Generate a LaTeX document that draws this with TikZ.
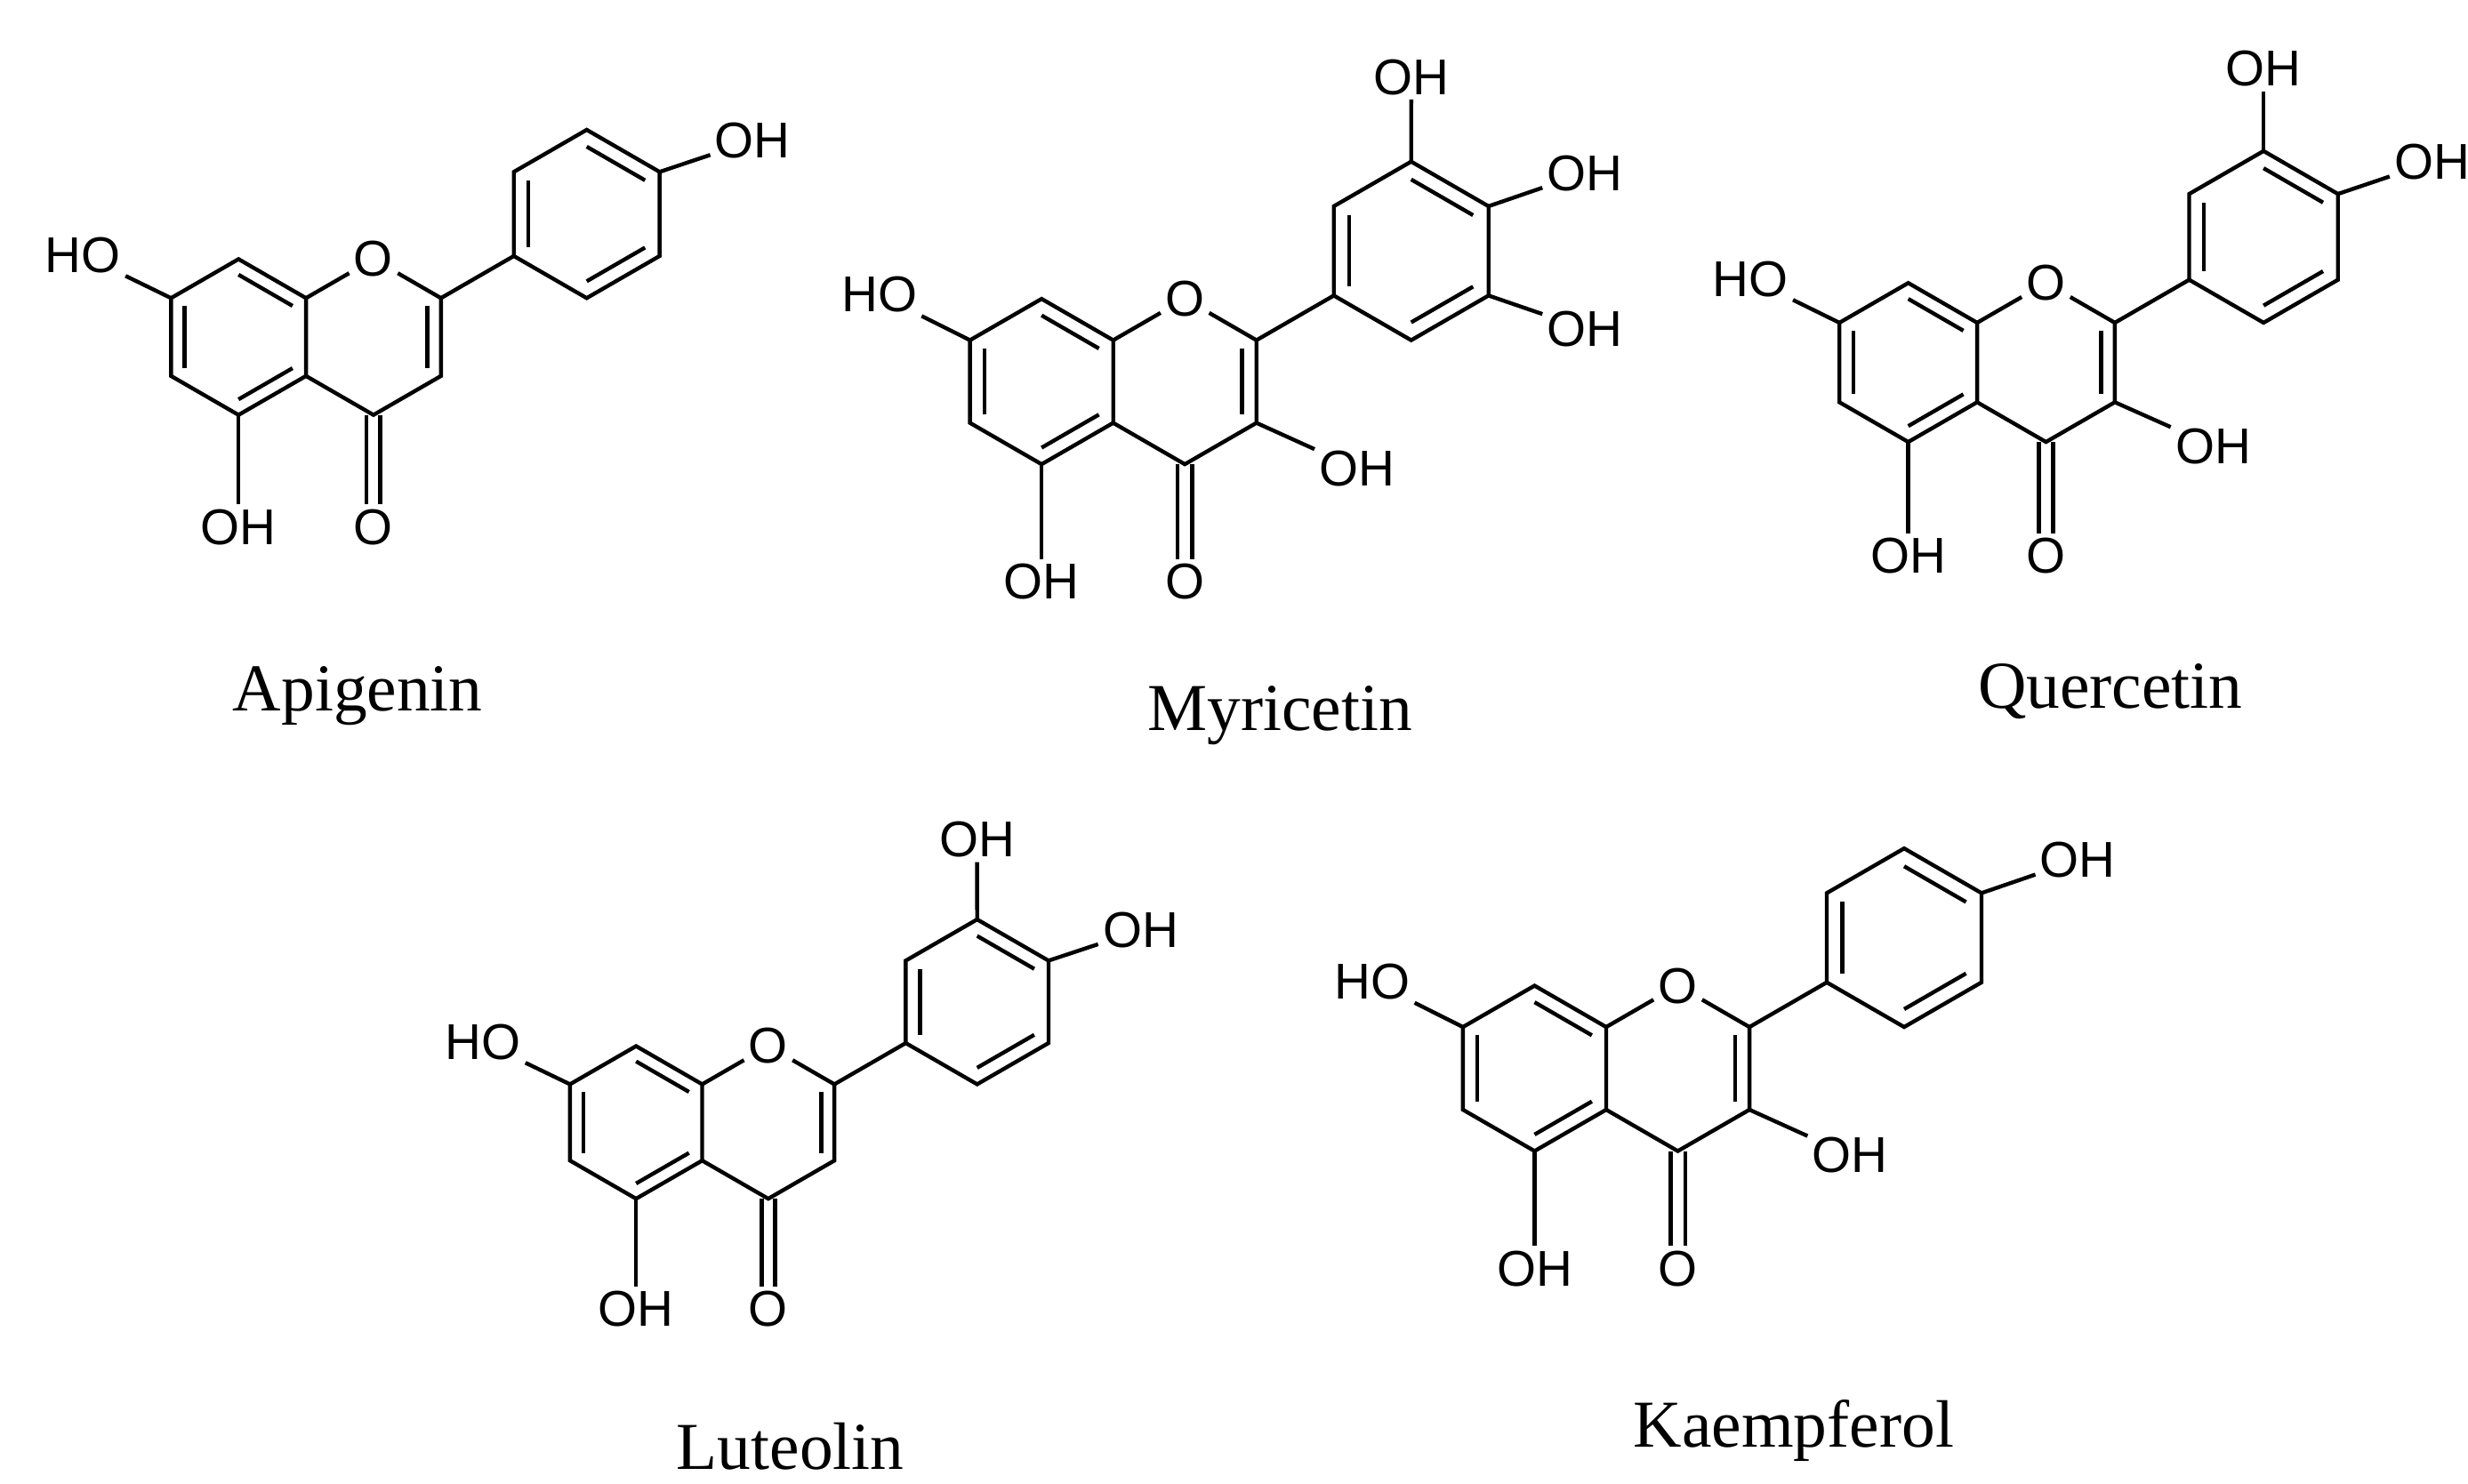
\documentclass[tikz,border=0pt]{standalone}
\usepackage{fontspec}
\setmainfont{Liberation Serif}
\newfontfamily\atomfont{Liberation Sans}
\usetikzlibrary{calc}
\tikzset{
 bond/.style={line width=1.4pt},
 atom/.style={font=\atomfont\fontsize{18}{18}\selectfont, inner sep=1.5pt},
 title/.style={font=\fontsize{24}{24}\selectfont}
}
\newcommand\dbl[3]{\draw[bond] ($(#1)!0.2!(#3)$) -- ($(#2)!0.2!(#3)$);}
% x, y, L, name, 3-OH, 3'-OH, 4'-OH, 5'-OH
\newcommand\flav[8]{%
\begin{scope}[shift={(#1/50,-#2/50)},scale=#3/50]
\coordinate (#4a1) at (0,1); \coordinate (#4a2) at (0.866,0.5);
\coordinate (#4a3) at (0.866,-0.5); \coordinate (#4a4) at (0,-1);
\coordinate (#4a5) at (-0.866,-0.5); \coordinate (#4a6) at (-0.866,0.5);
\coordinate (#4ac) at (0,0);
\coordinate (#4c2) at (2.598,0.5); \coordinate (#4c3) at (2.598,-0.5);
\coordinate (#4c4) at (1.732,-1); \coordinate (#4cc) at (1.732,0);
\begin{scope}[shift={(2.598,0.5)},scale=1.08,shift={(-2.598,-0.5)}]
\coordinate (#4b1) at (3.464,1); \coordinate (#4b2) at (4.33,0.5);
\coordinate (#4b3) at (5.196,1); \coordinate (#4b4) at (5.196,2);
\coordinate (#4b5) at (4.33,2.5); \coordinate (#4b6) at (3.464,2);
\coordinate (#4bc) at (4.33,1.5);
\end{scope}
\node[atom] (#4o1) at (1.732,1) {O};
\node[atom,anchor=north] (#4o4) at (1.732,-2.15) {O};
\node[atom,anchor=north] (#4o5) at (0,-2.15) {OH};
\node[atom,anchor=east] (#4o7) at (-1.45,1.05) {HO};
\draw[bond] (#4a1)--(#4a2)--(#4a3)--(#4a4)--(#4a5)--(#4a6)--cycle;
\draw[bond] (#4a2)--(#4o1)--(#4c2)--(#4c3)--(#4c4)--(#4a3);
\draw[bond] (#4a4)--(#4o5); \draw[bond] (#4a6)--(#4o7);
\draw[bond] ([xshift=-2.5pt]#4c4)--([xshift=-2.5pt]#4o4.north);
\draw[bond] ([xshift=2.5pt]#4c4)--([xshift=2.5pt]#4o4.north);
\dbl{#4a5}{#4a6}{#4ac}\dbl{#4a1}{#4a2}{#4ac}\dbl{#4a3}{#4a4}{#4ac}
\dbl{#4c2}{#4c3}{#4cc}
\draw[bond] (#4c2)--(#4b1);
\draw[bond] (#4b1)--(#4b2)--(#4b3)--(#4b4)--(#4b5)--(#4b6)--cycle;
\dbl{#4b2}{#4b3}{#4bc}\dbl{#4b4}{#4b5}{#4bc}\dbl{#4b6}{#4b1}{#4bc}
\ifnum#5=1 \node[atom,anchor=west] (#4o3) at (3.3,-1.05) {OH}; \draw[bond] (#4c3)--(#4o3);\fi
\ifnum#6=1 \node[atom,anchor=south] (#4o3p) at ($(#4b5)+(0,0.75)$) {OH}; \draw[bond] (#4b5)--(#4o3p);\fi
\ifnum#7=1 \node[atom,anchor=west] (#4o4p) at ($(#4b4)+(0.65,0.4)$) {OH}; \draw[bond] (#4b4)--(#4o4p);\fi
\ifnum#8=1 \node[atom,anchor=west] (#4o5p) at ($(#4b3)+(0.65,-0.4)$) {OH}; \draw[bond] (#4b3)--(#4o5p);\fi
\end{scope}}
\begin{document}
\begin{tikzpicture}
\useasboundingbox[fill=white] (0,0) rectangle (31.04,-18.66);
\flav{150}{212}{49}{ap}{0}{0}{1}{0}
\flav{655}{240}{52}{my}{1}{1}{1}{1}
\flav{1200}{228}{50}{qu}{1}{1}{1}{0}
\flav{400}{706}{48}{lu}{0}{1}{1}{0}
\flav{965}{672}{52}{ka}{1}{0}{1}{0}
\node[title] (tap) at (225/50,-438/50) {Apigenin};
\node[title] (tmy) at (805/50,-450/50) {Myricetin};
\node[title] (tqu) at (1327/50,-435/50) {Quercetin};
\node[title] (tlu) at (497/50,-910/50) {Luteolin};
\node[title] (tka) at (1128/50,-900/50) {Kaempferol};
\end{tikzpicture}
\end{document}
